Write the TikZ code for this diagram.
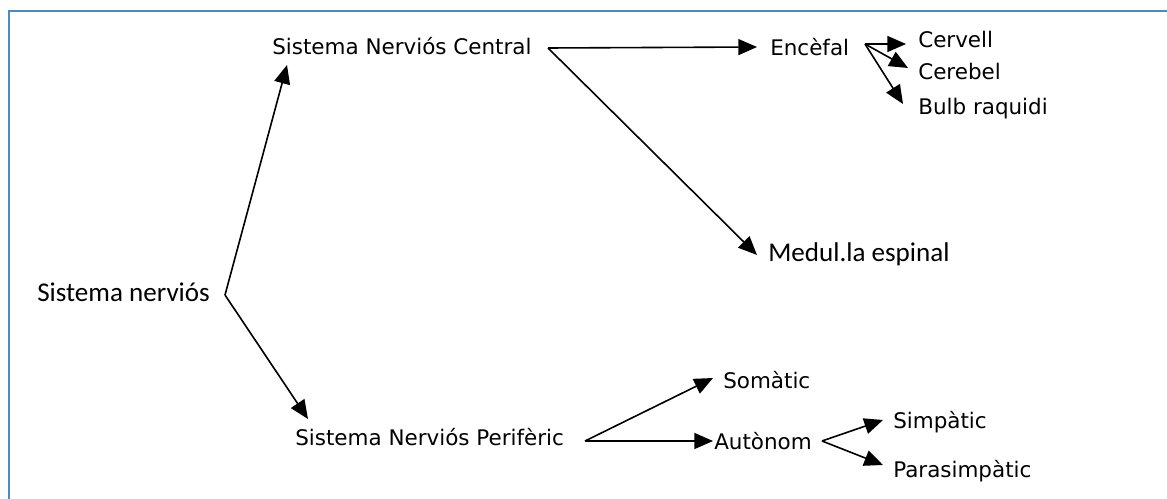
\documentclass[tikz,border=0pt]{standalone}
\usepackage{fontspec}
\setmainfont{DejaVu Sans}
\newfontfamily\carlito{Carlito}
\usetikzlibrary{arrows.meta}
\definecolor{frameblue}{RGB}{70,140,200}
\begin{document}
\begin{tikzpicture}[x=0.75pt,y=-0.75pt,
  lbl/.style={anchor=base west,inner sep=0pt,font=\fontsize{16.1}{19}\selectfont},
  lblc/.style={anchor=base west,inner sep=0pt,font=\carlito\fontsize{20.3}{24}\selectfont},
  arr/.style={line width=1.2pt,-{Triangle[length=14pt,width=12pt]}}]
\useasboundingbox (0,0) rectangle (1167,499);
\draw[frameblue,line width=1.5pt] (8.5,499) -- (8.5,11.5) -- (1167,11.5);

% labels
\node[lblc] (sn) at (37,301) {Sistema nerviós};
\node[lbl] (snc) at (272,55) {Sistema Nerviós Central};
\node[lbl] (enc) at (770,56) {Encèfal};
\node[lbl] (cervell) at (918,48) {Cervell};
\node[lbl] (cerebel) at (918,80) {Cerebel};
\node[lbl] (bulb) at (918,115) {Bulb raquidi};
\node[lblc] (med) at (768,261) {Medul.la espinal};
\node[lbl] (snp) at (295,445) {Sistema Nerviós Perifèric};
\node[lbl] (som) at (723,388) {Somàtic};
\node[lbl] (aut) at (714,449) {Autònom};
\node[lbl] (simp) at (893,428) {Simpàtic};
\node[lbl] (para) at (893,477) {Parasimpàtic};

% branch points and arrow tips
\coordinate (v1) at (225,295);
\coordinate (t-snc) at (287,65);
\coordinate (t-snp) at (308,419);
\coordinate (v2) at (548,48);
\coordinate (t-enc) at (757,47);
\coordinate (t-med) at (757,255);
\coordinate (v3) at (865,44);
\coordinate (t-cervell) at (906,44);
\coordinate (t-cerebel) at (908,68);
\coordinate (t-bulb) at (903,104);
\coordinate (v4) at (585,441);
\coordinate (t-som) at (713,378);
\coordinate (t-aut) at (713,441);
\coordinate (v5) at (822,441);
\coordinate (t-simp) at (883,420);
\coordinate (t-para) at (883,465);

\draw[arr] (v1) -- (t-snc);
\draw[arr] (v1) -- (t-snp);
\draw[arr] (v2) -- (t-enc);
\draw[arr] (v2) -- (t-med);
\draw[arr] (v3) -- (t-cervell);
\draw[arr] (v3) -- (t-cerebel);
\draw[arr] (v3) -- (t-bulb);
\draw[arr] (v4) -- (t-som);
\draw[arr] (v4) -- (t-aut);
\draw[arr] (v5) -- (t-simp);
\draw[arr] (v5) -- (t-para);
\end{tikzpicture}
\end{document}
